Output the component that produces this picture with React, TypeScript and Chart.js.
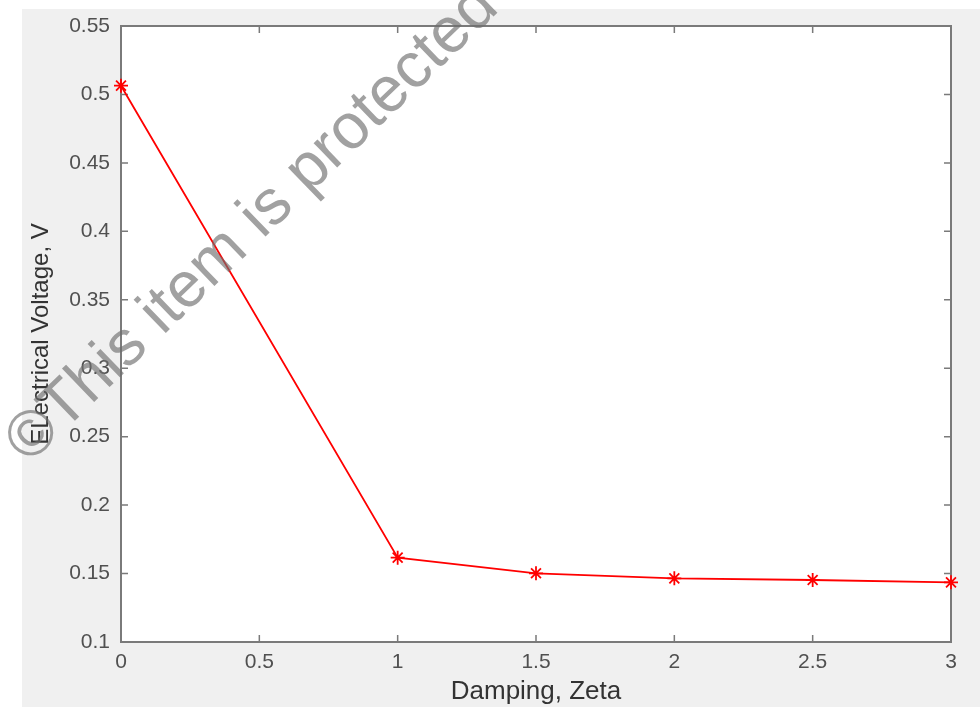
import React, { useEffect, useRef } from "react";
import { Chart, registerables } from "chart.js";

Chart.register(...registerables);

const zeta = [0, 1, 1.5, 2, 2.5, 3];
const voltage = [0.5064, 0.1616, 0.1502, 0.1465, 0.1453, 0.1436];
const xTicks = [0, 0.5, 1, 1.5, 2, 2.5, 3];
const yTicks = [0.1, 0.15, 0.2, 0.25, 0.3, 0.35, 0.4, 0.45, 0.5, 0.55];
const xTitle = "Damping, Zeta";
const yTitle = "ELectrical Voltage, V";
const watermark = "\u00A9This item is protected";

const FONT = "'Liberation Sans', Arial, Helvetica, sans-serif";

const framePlugin = {
  id: "frame",
  beforeDraw(chart: any) {
    const { ctx, width, height, chartArea } = chart;
    ctx.save();
    ctx.fillStyle = "#ffffff";
    ctx.fillRect(0, 0, width, height);
    ctx.fillStyle = "#f0f0f0";
    ctx.fillRect(22, 9, width - 22, height - 9);
    ctx.fillStyle = "#ffffff";
    ctx.fillRect(chartArea.left, chartArea.top, chartArea.right - chartArea.left, chartArea.bottom - chartArea.top);
    ctx.restore();
  },
  beforeDatasetsDraw(chart: any) {
    const { ctx, chartArea } = chart;
    const { left, right, top, bottom } = chartArea;
    const xs = chart.scales.x;
    const ys = chart.scales.y;
    const tl = 7;
    ctx.save();
    ctx.strokeStyle = "#7a7a7a";
    ctx.lineWidth = 1.5;
    ctx.beginPath();
    xs.ticks.forEach((t: any) => {
      const px = xs.getPixelForValue(t.value);
      ctx.moveTo(px, bottom);
      ctx.lineTo(px, bottom - tl);
      ctx.moveTo(px, top);
      ctx.lineTo(px, top + tl);
    });
    ys.ticks.forEach((t: any) => {
      const py = ys.getPixelForValue(t.value);
      ctx.moveTo(left, py);
      ctx.lineTo(left + tl, py);
      ctx.moveTo(right, py);
      ctx.lineTo(right - tl, py);
    });
    ctx.stroke();
    ctx.lineWidth = 2;
    ctx.strokeRect(left, top, right - left, bottom - top);
    ctx.restore();
  },
  afterDraw(chart: any) {
    const { ctx } = chart;
    ctx.save();
    ctx.translate(29, 465);
    ctx.rotate((-44 * Math.PI) / 180);
    ctx.font = `64px ${FONT}`;
    ctx.fillStyle = "rgba(110,110,110,0.65)";
    ctx.textBaseline = "alphabetic";
    ctx.textAlign = "left";
    ctx.fillText(watermark, 0, 0);
    ctx.restore();
  },
};

export default function App() {
  const ref = useRef<HTMLCanvasElement | null>(null);

  useEffect(() => {
    if (!ref.current) return;
    const chart = new Chart(ref.current, {
      type: "line",
      data: {
        datasets: [
          {
            data: zeta.map((x, i) => ({ x, y: voltage[i] })),
            borderColor: "#ff0000",
            backgroundColor: "#ff0000",
            borderWidth: 1.8,
            pointStyle: "star",
            pointRadius: 7,
            pointBorderWidth: 1.8,
            pointBorderColor: "#ff0000",
            tension: 0,
            fill: false,
            clip: false as any,
          },
        ],
      },
      options: {
        responsive: false,
        animation: false,
        events: [],
        layout: { padding: { left: 0, top: 26, right: 29, bottom: 0 } },
        plugins: {
          legend: { display: false },
          tooltip: { enabled: false },
        },
        scales: {
          x: {
            type: "linear",
            min: 0,
            max: 3,
            afterBuildTicks: (s: any) => {
              s.ticks = xTicks.map((v) => ({ value: v }));
            },
            afterFit: (s: any) => {
              s.height = 65;
            },
            ticks: {
              color: "#505050",
              font: { family: FONT, size: 21 },
              padding: 8,
              maxRotation: 0,
              autoSkip: false,
              callback: (v: any) => String(v),
            },
            grid: { display: false, drawTicks: false },
            border: { display: false },
            title: {
              display: true,
              text: xTitle,
              color: "#333333",
              font: { family: FONT, size: 26 },
              padding: { top: 0, bottom: 0 },
            },
          },
          y: {
            type: "linear",
            min: 0.1,
            max: 0.55,
            afterBuildTicks: (s: any) => {
              s.ticks = yTicks.map((v) => ({ value: v }));
            },
            afterFit: (s: any) => {
              s.width = 121;
            },
            ticks: {
              color: "#505050",
              font: { family: FONT, size: 21 },
              padding: 11,
              autoSkip: false,
              callback: (v: any) => String(Math.round(v * 100) / 100),
            },
            grid: { display: false, drawTicks: false },
            border: { display: false },
            title: {
              display: true,
              text: yTitle,
              color: "#333333",
              font: { family: FONT, size: 24 },
              padding: { top: 26.6, bottom: 0 },
            },
          },
        },
      },
      plugins: [framePlugin],
    });
    return () => chart.destroy();
  }, []);

  return (
    <div style={{ position: "fixed", left: 0, top: 0, width: 980, height: 707 }}>
      <canvas ref={ref} width={980} height={707} style={{ display: "block" }} />
    </div>
  );
}
